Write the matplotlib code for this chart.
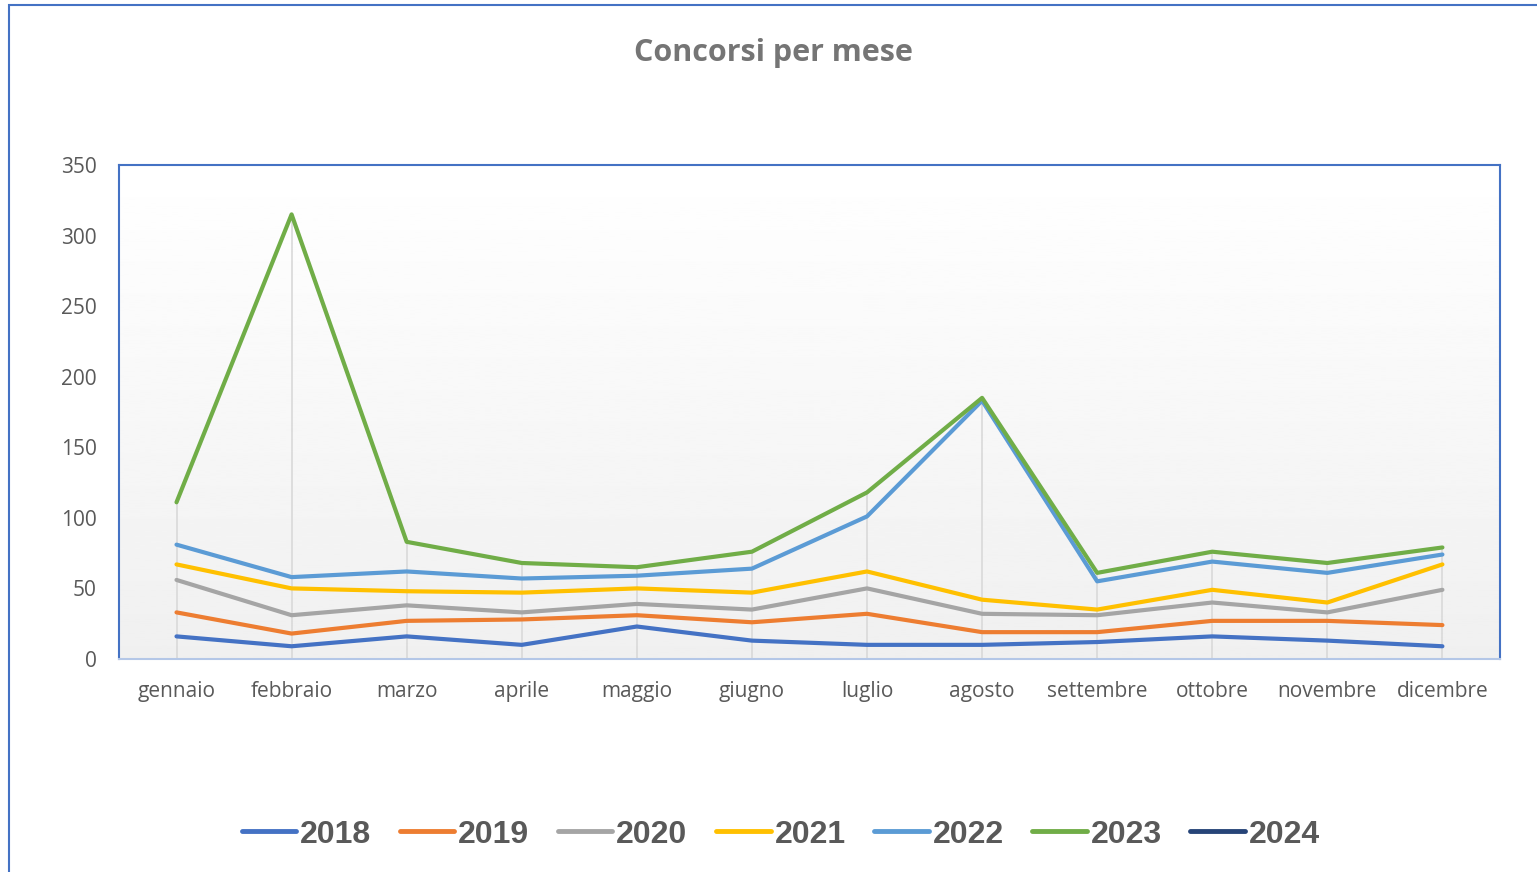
"""Concorsi per mese - line chart"""

import numpy as np
from matplotlib import pyplot as plt
from matplotlib.lines import Line2D
from matplotlib.patches import Rectangle

months = ['gennaio', 'febbraio', 'marzo', 'aprile', 'maggio', 'giugno',
          'luglio', 'agosto', 'settembre', 'ottobre', 'novembre', 'dicembre']

years = ['2018', '2019', '2020', '2021', '2022', '2023', '2024']

v2018 = [16, 9, 16, 10, 23, 13, 10, 10, 12, 16, 13, 9]
v2019 = [33, 18, 27, 28, 31, 26, 32, 19, 19, 27, 27, 24]
v2020 = [56, 31, 38, 33, 39, 35, 50, 32, 31, 40, 33, 49]
v2021 = [67, 50, 48, 47, 50, 47, 62, 42, 35, 49, 40, 67]
v2022 = [81, 58, 62, 57, 59, 64, 101, 183, 55, 69, 61, 74]
v2023 = [111, 315, 83, 68, 65, 76, 118, 185, 61, 76, 68, 79]
v2024 = [None] * 12

colors = ['#4472C4', '#ED7D31', '#A5A5A5', '#FFC000', '#5B9BD5', '#70AD47', '#264478']

series = [v2018, v2019, v2020, v2021, v2022, v2023, v2024]

fig = plt.figure(figsize=(15.37, 8.72), dpi=100)
fig.patch.set_facecolor('white')

# outer chart border
fig.patches.append(Rectangle((0.0059, -0.05), 1.2, 1.0443, transform=fig.transFigure,
                             fill=False, edgecolor='#4472C4', lw=1.5))

ax = fig.add_axes([0.0774, 0.2443, 0.8985, 0.5665])
x = np.arange(len(months))

ax.set_xlim(-0.5, 11.5)
ax.set_ylim(0, 350)

# gradient background
grad = np.linspace(1.0, 0.94, 256).reshape(-1, 1)
ax.imshow(grad, extent=[-0.5, 11.5, 0, 350], aspect='auto', cmap='gray',
          vmin=0, vmax=1, zorder=0, origin='upper')

# drop lines up to highest value of each month
tops = np.nanmax(np.array([s for s in series[:-1]], dtype=float), axis=0)
ax.vlines(x, 0, tops, colors='#d9d9d9', lw=1.2, zorder=1)

for name, vals, c in zip(years, series, colors):
    ax.plot(x, np.array(vals, dtype=float), color=c, lw=3,
            solid_capstyle='round', solid_joinstyle='round', zorder=3, label=name)

ax.set_xticks(x)
ax.set_xticklabels(months)
ax.set_yticks(range(0, 351, 50))
ax.tick_params(length=0, labelsize=15, labelcolor='#595959')
ax.tick_params(axis='x', pad=16)
ax.tick_params(axis='y', pad=16)
for lbl in ax.get_xticklabels() + ax.get_yticklabels():
    lbl.set_family('Open Sans')

for side in ['left', 'top', 'right']:
    ax.spines[side].set_color('#4472C4')
    ax.spines[side].set_linewidth(1.5)
ax.spines['bottom'].set_color('#b4c7e7')
ax.spines['bottom'].set_linewidth(1.5)

fig.text(0.503, 0.939, 'Concorsi per mese', ha='center', va='center',
         fontsize=22, fontweight='bold', color='#757575', family='Open Sans')

handles = [Line2D([], [], color=c, lw=3.5, solid_capstyle='round') for c in colors]
leg = fig.legend(handles, years, loc='center', bbox_to_anchor=(0.508, 0.043), ncol=7,
                 frameon=False, handlelength=1.7, handletextpad=0.12, columnspacing=0.9,
                 prop={'family': ['Liberation Sans', 'DejaVu Sans'],
                       'weight': 'bold', 'size': 23})
for t in leg.get_texts():
    t.set_color('#595959')

fig.savefig('out.png', dpi=100)
